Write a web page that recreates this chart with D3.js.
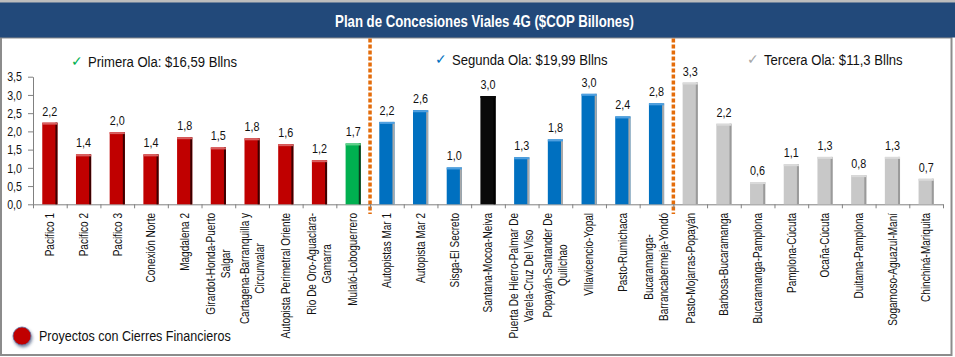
<!DOCTYPE html>
<html><head><meta charset="utf-8">
<script src="https://cdn.jsdelivr.net/npm/d3@7"></script>
<style>
html,body{margin:0;padding:0;background:#fff;}
svg{display:block;}
text{font-family:"Liberation Sans",Arial,sans-serif;}
</style></head>
<body>
<svg id="c" width="955" height="357"></svg>
<script>
// ---- data ----
const categories = [
  "Pacifico 1","Pacifico 2","Pacifico 3","Conexión Norte","Magdalena 2",
  "Girardot-Honda-Puerto|Salgar","Cartagena-Barranquilla y|Circunvalar",
  "Autopista Perimetral Oriente","Rio De Oro-Aguaclara-|Gamarra","Mulaló-Loboguerrero",
  "Autopistas Mar 1","Autopista Mar 2","Sisga-El Secreto","Santana-Mocoa-Neiva",
  "Puerta De Hierro-Palmar De|Varela-Cruz Del Viso","Popayán-Santander De|Quilichao",
  "Villavicencio-Yopal","Pasto-Rumichaca","Bucaramanga-|Barrancabermeja-Yondó",
  "Pasto-Mojarras-Popayán","Barbosa-Bucaramanga","Bucaramanga-Pamplona","Pamplona-Cúcuta",
  "Ocaña-Cúcuta","Duitama-Pamplona","Sogamoso-Aguazul-Maní","Chinchiná-Mariquita"
];
const values = [
  2.24,1.37,1.98,1.37,1.84,1.56,1.81,1.65,1.21,1.67,
  2.26,2.58,1.01,2.97,1.29,1.78,3.03,2.41,2.77,
  3.34,2.21,0.61,1.10,1.30,0.80,1.30,0.70
];
const valueLabels = [
  "2,2","1,4","2,0","1,4","1,8","1,5","1,8","1,6","1,2","1,7",
  "2,2","2,6","1,0","3,0","1,3","1,8","3,0","2,4","2,8",
  "3,3","2,2","0,6","1,1","1,3","0,8","1,3","0,7"
];
const waveOf = [
  "Primera","Primera","Primera","Primera","Primera","Primera","Primera","Primera","Primera","Primera",
  "Segunda","Segunda","Segunda","Segunda","Segunda","Segunda","Segunda","Segunda","Segunda",
  "Tercera","Tercera","Tercera","Tercera","Tercera","Tercera","Tercera","Tercera"
];
const statusOf = [
  "cierre","cierre","cierre","cierre","cierre","cierre","cierre","cierre","cierre","verde",
  "azul","azul","azul","negro","azul","azul","azul","azul","azul",
  "gris","gris","gris","gris","gris","gris","gris","gris"
];
const waves = ["Primera","Segunda","Tercera"];
const waveTitles = ["Primera Ola: $16,59 Bllns","Segunda Ola: $19,99 Bllns","Tercera Ola: $11,3 Bllns"];
const yTicks = [0,0.5,1,1.5,2,2.5,3,3.5];
const chartTitle = "Plan de Concesiones Viales 4G ($COP Billones)";
const legendLabel = "Proyectos con Cierres Financieros";

// ---- styles ----
const fills = {cierre:"#C00000", verde:"#00B050", azul:"#0070C0", negro:"#0A0A0A", gris:"#C8C8C8"};
const tops  = {cierre:"#D96060", verde:"#5FD08A", azul:"#4FA0E0", negro:"#0A0A0A", gris:"#DADADA"};
const sides = {cierre:"#3A0000", verde:"#0B3A1C", azul:"#A9A9A9", negro:"#000000", gris:"#9A9A9A"};
const checkColors = {Primera:"#00B050", Segunda:"#0070C0", Tercera:"#A6A6A6"};
const NARROW = 0.82;
function narrow(sel, k){
  sel.each(function(){
    const L = this.getComputedTextLength();
    d3.select(this).attr("textLength", L*(k||NARROW)).attr("lengthAdjust","spacingAndGlyphs");
  });
}

const svg = d3.select("#c");
const W = 955, H = 357;

// frame
svg.append("rect").attr("x",0).attr("y",0).attr("width",W).attr("height",3).attr("fill","#BDBDBD");
svg.append("rect").attr("x",1).attr("y",37.5).attr("width",950.5).attr("height",317.5)
  .attr("fill","#fff").attr("stroke","#8C8C8C").attr("stroke-width",2);
svg.append("rect").attr("x",0).attr("y",2.5).attr("width",W).attr("height",35).attr("fill","#22497A");
svg.append("text").attr("x",484.5).attr("y",27).attr("text-anchor","middle")
  .attr("fill","#fff").attr("font-weight","bold").attr("font-size",16.5).text(chartTitle).call(narrow, 0.8);

// scales
const idx = d3.range(categories.length);
const x = d3.scaleBand().domain(idx).range([33,943]).paddingInner(0.55).paddingOuter(0.275);
const xl = d3.scaleLinear().domain([0,categories.length]).range([33,943]);
const y = d3.scaleLinear().domain([0,3.5]).range([204.3,76.7]);

// separators between waves
const sepIdx = waves.slice(1).map(w => waveOf.indexOf(w));
svg.selectAll("line.sep").data(sepIdx).join("line").attr("class","sep")
  .attr("x1",d=>xl(d)).attr("x2",d=>xl(d)).attr("y1",38.5).attr("y2",214)
  .attr("stroke","#E46C0A").attr("stroke-width",3.5).attr("stroke-dasharray","4,2");

// y axis
const ya = svg.append("g").attr("transform","translate(33,0)")
  .call(d3.axisLeft(y).tickValues(yTicks).tickSize(5).tickSizeOuter(0).tickPadding(6)
    .tickFormat(d=>d3.format(".1f")(d).replace(".",",")));
ya.selectAll("path,line").attr("stroke","#808080");
ya.selectAll("text").attr("font-size",13).attr("fill","#111")
  .attr("font-family",'"Liberation Sans",Arial,sans-serif').call(narrow);

// x axis
const xa = svg.append("g").attr("transform","translate(0,204.3)")
  .call(d3.axisBottom(xl).tickValues(d3.range(categories.length+1)).tickSize(4).tickSizeOuter(0).tickFormat(""));
xa.selectAll("path,line").attr("stroke","#808080");

// bars
const bars = svg.append("g").selectAll("g").data(idx).join("g");
bars.append("rect").attr("x",i=>x(i)).attr("y",i=>y(values[i])).attr("width",x.bandwidth())
  .attr("height",i=>y(0)-y(values[i])).attr("fill",i=>fills[statusOf[i]]);
bars.append("rect").attr("x",i=>x(i)+x.bandwidth()-2).attr("y",i=>y(values[i])).attr("width",2)
  .attr("height",i=>y(0)-y(values[i])).attr("fill",i=>sides[statusOf[i]]);
bars.append("rect").attr("x",i=>x(i)).attr("y",i=>y(values[i])).attr("width",x.bandwidth())
  .attr("height",2).attr("fill",i=>tops[statusOf[i]]);

// value labels
svg.append("g").selectAll("text").data(idx).join("text")
  .attr("x",i=>x(i)+x.bandwidth()/2).attr("y",i=>y(values[i])-7)
  .attr("text-anchor","middle").attr("font-size",13.5).attr("fill","#111")
  .text(i=>valueLabels[i]).call(narrow, 0.8);

// category labels (rotated, wrapped lines centered on the longest)
const lg = svg.append("g").selectAll("g").data(idx).join("g")
  .attr("transform",i=>`translate(${x(i)+x.bandwidth()/2},213) rotate(-90)`);
lg.each(function(i){
  const g = d3.select(this);
  const lines = categories[i].split("|");
  const ts = lines.map((l,k)=> g.append("text").attr("font-size",12.2).attr("fill","#111")
      .attr("text-anchor","middle").attr("dy","0.35em")
      .attr("y",(k-(lines.length-1)/2)*15).text(l));
  ts.forEach(t=>t.call(narrow));
  const wmax = d3.max(ts, t=>+t.attr("textLength"));
  ts.forEach(t=>t.attr("x",-wmax/2));
});

// wave headings
const headX = [71, 435, 747];
const hg = svg.append("g").selectAll("g").data(waves).join("g")
  .attr("transform",(w,k)=>`translate(${headX[k]},${k===0?67:65})`);
hg.append("text").attr("font-family","DejaVu Sans").attr("font-size",14)
  .attr("fill",w=>checkColors[w]).attr("y",-1).text("\u2713");
hg.append("text").attr("x",17).attr("font-size",15.3).attr("fill","#111")
  .text((w,k)=>waveTitles[k]).call(narrow, 0.855);

// legend
const defs = svg.append("defs");
const f = defs.append("filter").attr("id","sh").attr("x","-50%").attr("y","-50%").attr("width","200%").attr("height","200%");
f.append("feDropShadow").attr("dx",1).attr("dy",2).attr("stdDeviation",1.5).attr("flood-color","#203060").attr("flood-opacity",0.6);
svg.append("circle").attr("cx",22).attr("cy",336).attr("r",9).attr("fill",fills.cierre)
  .attr("stroke","#6070A0").attr("stroke-width",0.8).attr("filter","url(#sh)");
svg.append("text").attr("x",39).attr("y",341).attr("font-size",15.3).attr("fill","#111").text(legendLabel).call(narrow);
</script>
</body></html>
